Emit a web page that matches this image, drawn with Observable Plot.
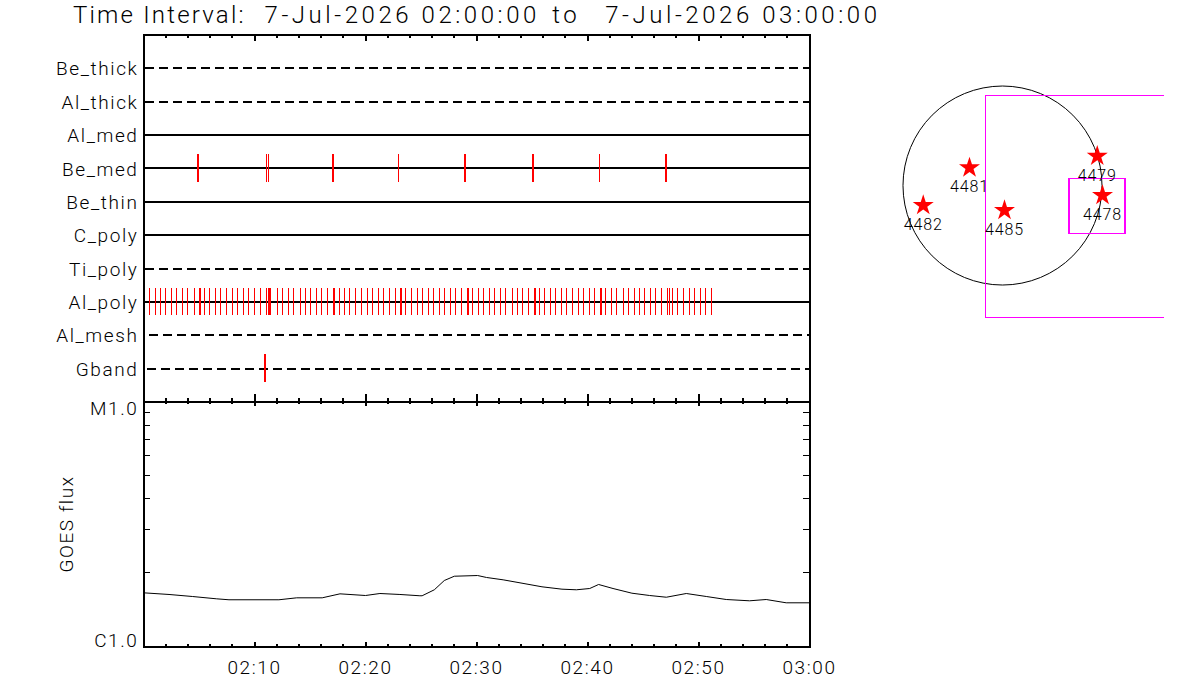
<!DOCTYPE html>
<html><head><meta charset="utf-8">
<script src="https://cdn.jsdelivr.net/npm/d3@7"></script>
<script src="https://cdn.jsdelivr.net/npm/@observablehq/plot@0.6"></script>
<style>
html,body{margin:0;padding:0;background:#fff;}
#root{position:relative;width:1200px;height:700px;overflow:hidden;font-family:Roboto,"Liberation Sans",sans-serif;font-weight:300;}
#root>div,#root>svg,#root>figure{position:absolute;margin:0;}
#title{left:73px;top:1px;font-size:24px;letter-spacing:3.55px;white-space:pre;color:#000;font-weight:300;}
#title .a{letter-spacing:2.2px;}
#title .b{word-spacing:3px;}
#root svg text{font-weight:300;}
</style></head><body>
<div id="root"><div id="title"><span class="a">Time Interval:</span>  7-Jul-2026 02:00:00<span class="b"> to  </span>7-Jul-2026 03:00:00</div></div>
<script>
const channels = ["Be_thick","Al_thick","Al_med","Be_med","Be_thin","C_poly","Ti_poly","Al_poly","Al_mesh","Gband"];
const solidChannels = ["Al_med","Be_med","Be_thin","C_poly","Al_poly"];
const dashedChannels = ["Be_thick","Al_thick","Ti_poly","Al_mesh","Gband"];
const beMedHeavy = [4.87,17.03,29.0,35.05,47.03];
const beMedLight = [11.08,11.26,22.97,41.08];
const gbandEvents = [10.98];
const alPolyEvents = [0.5,1.05,1.5,2,2.5,3,3.5,4,4.55,5.05,5.15,5.5,5.95,6.5,6.95,7.5,8,8.5,9,9.5,10,10.5,11.1,11.25,11.35,11.45,12.1,12.55,13.1,13.55,14.1,14.55,15.05,15.55,16.05,16.55,17.15,17.25,17.7,18.1,18.6,19.1,19.65,20.2,20.65,21.15,21.65,22.15,22.7,23.15,23.25,23.6,24.15,24.7,25.15,25.7,26.15,26.7,27.15,27.7,28.15,28.65,29.2,29.3,29.65,30.2,30.65,31.2,31.65,32.2,32.65,33.2,33.65,34.15,34.65,35.25,35.35,35.7,36.15,36.7,37.15,37.65,38.15,38.65,39.2,39.65,40.2,40.65,41.2,41.3,41.65,42.2,42.65,43.2,43.65,44.2,44.65,45.15,45.65,46.15,46.7,47.25,47.35,47.7,48.15,48.65,49.2,49.65,50.2,50.65,51.2];
const majorMinutes = [10,20,30,40,50];
const minorMinutes = [2,4,6,8,12,14,16,18,22,24,26,28,32,34,36,38,42,44,46,48,52,54,56,58];
const timeLabels = [10,20,30,40,50,60];
const fluxMinutes = [0,2.3,4.4,6.6,7.7,12.2,13.8,16.1,17.7,20,21.3,23.1,24.9,25.1,26.2,27.1,28,30.1,30.9,32.4,34.1,35.9,37.7,39,40.2,41,42.3,44,45.6,47.1,48.9,50.7,52.5,54.6,56.1,57.9,60];
const fluxValues = [1.672,1.646,1.615,1.580,1.566,1.566,1.595,1.595,1.656,1.630,1.661,1.646,1.626,1.626,1.720,1.877,1.954,1.967,1.931,1.889,1.830,1.769,1.730,1.720,1.741,1.808,1.741,1.666,1.630,1.604,1.661,1.615,1.570,1.551,1.570,1.522,1.522];
const logTicks = [2,3,4,5,6,7,8,9];
const regionNames = ["4482","4481","4485","4479","4478"];
const regionX = [-752,-313,19,899,949];
const regionY = [-188,169,-236,279,-93];
const fovX1 = [-158,629,644], fovX2 = [1948,1165,1170], fovY1 = [-1255,-462,-462], fovY2 = [851,66,62];
const solarRadius = [944];

const fmtTime = m => { const t = 120 + m; return String(Math.floor(t/60)).padStart(2,"0") + ":" + String(t%60).padStart(2,"0"); };
const rowOf = n => channels.indexOf(n) + 1;
const baseStyle = {background:"none",fontFamily:"Roboto,'Liberation Sans',sans-serif",fontSize:"19px",letterSpacing:"1.6px",color:"#000",overflow:"visible"};
const xScale = {type:"linear",domain:[0,60]};
const W = 1200, mL = 144, mR = 390;
const root = document.getElementById("root");
function place(el,left,topPx){ el.style.position="absolute"; el.style.left=left+"px"; el.style.top=topPx+"px"; root.appendChild(el); }

const crisp = {shapeRendering:"crispEdges"};
const eventsChart = Plot.plot({
  width:W,height:410,marginLeft:mL,marginRight:mR,marginTop:35,marginBottom:8,
  style:baseStyle,x:xScale,y:{domain:[-0.015,10.985],reverse:true},
  marks:[
    Plot.ruleY(solidChannels,{y:rowOf,stroke:"#000",strokeWidth:2,...crisp}),
    Plot.ruleY(dashedChannels.slice(0,3),{y:rowOf,stroke:"#000",strokeWidth:2,strokeDasharray:"9,5",insetLeft:2,...crisp}),
    Plot.ruleY(["Al_mesh"],{y:rowOf,stroke:"#000",strokeWidth:2,strokeDasharray:"9,5",insetLeft:6,...crisp}),
    Plot.ruleY(["Gband"],{y:rowOf,stroke:"#000",strokeWidth:2,strokeDasharray:"9,5",insetLeft:4,...crisp}),
    Plot.ruleX(beMedHeavy,{x:d=>d,y1:rowOf("Be_med")-0.42,y2:rowOf("Be_med")+0.42,stroke:"#f00",strokeWidth:2,...crisp}),
    Plot.ruleX(beMedLight,{x:d=>d,y1:rowOf("Be_med")-0.42,y2:rowOf("Be_med")+0.42,stroke:"#f00",strokeWidth:1,...crisp}),
    Plot.ruleX(alPolyEvents,{x:d=>d,y1:rowOf("Al_poly")-0.41,y2:rowOf("Al_poly")+0.41,stroke:"#f00",strokeWidth:1,...crisp}),
    Plot.ruleX(gbandEvents,{x:d=>d,y1:rowOf("Gband")-0.42,y2:rowOf("Gband")+0.42,stroke:"#f00",strokeWidth:2,...crisp}),
    Plot.ruleX(majorMinutes,{x:d=>d,insetBottom:360,stroke:"#000",strokeWidth:2,...crisp}),
    Plot.ruleX(minorMinutes,{x:d=>d,insetBottom:363,stroke:"#000",strokeWidth:2,...crisp}),
    Plot.ruleX(majorMinutes,{x:d=>d,insetTop:360,stroke:"#000",strokeWidth:2,...crisp}),
    Plot.ruleX(minorMinutes,{x:d=>d,insetTop:363.5,stroke:"#000",strokeWidth:2,...crisp}),
    Plot.axisY({ticks:channels.map(rowOf),tickFormat:i=>channels[i-1],tickSize:0,tickPadding:5,dy:1,label:null}),
    Plot.axisX({ticks:[],label:null}),
    Plot.frame({stroke:"#000",strokeWidth:2,...crisp})
  ]
});
place(eventsChart,-1,-1);

const flux = fluxMinutes.map((m,i)=>({m,v:fluxValues[i]}));
const fluxChart = Plot.plot({
  width:W,height:308,marginLeft:mL,marginRight:mR,marginTop:10,marginBottom:53,
  style:baseStyle,x:xScale,y:{type:"log",domain:[1,10]},
  marks:[
    Plot.line(flux,{x:"m",y:"v",stroke:"#000",strokeWidth:1,dy:1}),
    Plot.ruleY(logTicks,{y:d=>d,insetRight:659,stroke:"#000",strokeWidth:1,...crisp}),
    Plot.ruleY(logTicks,{y:d=>d,insetLeft:660,stroke:"#000",strokeWidth:1,...crisp}),
    Plot.ruleX(majorMinutes,{x:d=>d,insetBottom:240,stroke:"#000",strokeWidth:2,...crisp}),
    Plot.ruleX(minorMinutes,{x:d=>d,insetBottom:242,stroke:"#000",strokeWidth:2,...crisp}),
    Plot.ruleX(majorMinutes,{x:d=>d,insetTop:241,stroke:"#000",strokeWidth:2,...crisp}),
    Plot.ruleX(minorMinutes,{x:d=>d,insetTop:243,stroke:"#000",strokeWidth:2,...crisp}),
    Plot.axisY({ticks:[10],tickFormat:()=>"M1.0",tickSize:0,tickPadding:5,dy:7,label:null}),
    Plot.axisY({ticks:[1],tickFormat:()=>"C1.0",tickSize:0,tickPadding:5,dy:-6,label:null}),
    Plot.axisY({ticks:[],label:"GOES flux",labelAnchor:"center",labelArrow:"none",labelOffset:84}),
    Plot.axisX({ticks:timeLabels,tickFormat:fmtTime,tickSize:0,tickPadding:14,label:null}),
    Plot.frame({stroke:"#000",strokeWidth:2,...crisp})
  ]
});
place(fluxChart,-1,391);

const regions = regionNames.map((name,i)=>({name,x:regionX[i],y:regionY[i]}));
const fovs = fovX1.map((x1,i)=>({x1,x2:fovX2[i],y1:fovY1[i],y2:fovY2[i]}));
const mapChart = Plot.plot({
  width:275,height:250,margin:0,
  style:{...baseStyle,fontSize:"16px",letterSpacing:"0.9px",overflow:"hidden"},
  x:{domain:[-1072,1537],axis:null},
  y:{domain:[-1366,1006],axis:null},
  r:{type:"linear",domain:[0,944],range:[0,99.5]},
  marks:[
    Plot.dot(solarRadius,{x:()=>0,y:()=>0,r:d=>d,stroke:"#000",strokeWidth:1,fill:"none"}),
    Plot.rect(fovs,{x1:"x1",x2:"x2",y1:"y1",y2:"y2",stroke:"#f0f",strokeWidth:1,fill:"none",clip:"frame",...crisp}),
    Plot.dot(regions,{x:"x",y:"y",symbol:"star",r:6.6,fill:"#f00",stroke:"none"}),
    Plot.text(regions,{x:"x",y:"y",text:"name",dy:19.5,fill:"#000"})
  ]
});
place(mapChart,889,79);
</script>
</body></html>
